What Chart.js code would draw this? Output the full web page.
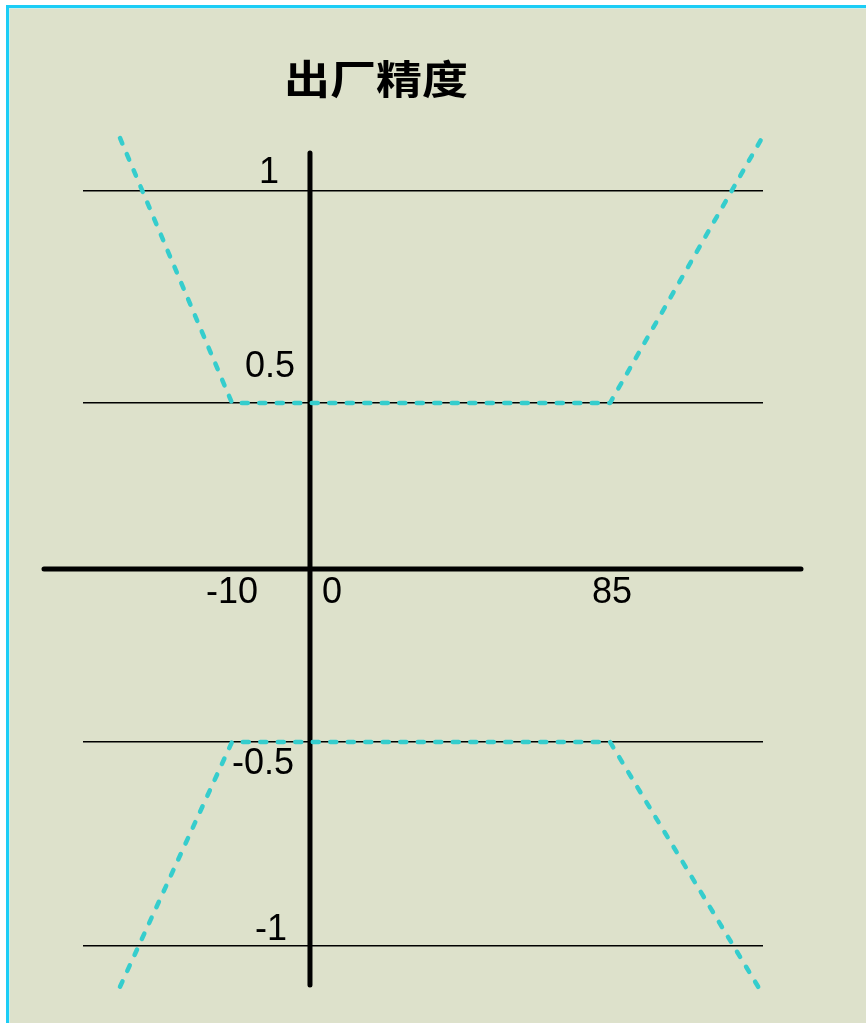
<!DOCTYPE html>
<html>
<head>
<meta charset="utf-8">
<script src="https://cdn.jsdelivr.net/npm/chart.js@4.4.1/dist/chart.umd.min.js"></script>
<style>
  html, body { margin: 0; padding: 0; background: #ffffff; }
  .marco {
    position: absolute; left: 6px; top: 5px; width: 860px; height: 1018px;
    box-sizing: border-box;
    border-left: 3px solid #1ccdf6; border-top: 3px solid #1ccdf6;
    box-shadow: inset 1px 1px 0 #cfeee6;
    background: #dde1cb;
  }
  #grafico { position: absolute; left: 0; top: 0; }
</style>
</head>
<body>
<div class="marco"></div>
<canvas id="grafico" width="866" height="1023"></canvas>
<script>
// datos (temperatura °C vs. error)
const titulo = "出厂精度";
const xSuperior = [-25, -10, 85, 125];
const ySuperior = [1.125, 0.5, 0.5, 1.125];
const xInferior = [-25, -10, 85, 124];
const yInferior = [-1.1, -0.5, -0.5, -1.1];
const ticksY = [-1, -0.5, 0.5, 1];
const etiquetasY = ["-1", "-0.5", "0.5", "1"];
const ticksX = [-10, 0, 85];
const etiquetasX = ["-10", "0", "85"];

// el dibujo original no es lineal: tramos (valor -> fracción del área)
const tramos = {
  x: [[-25, 0.0544], [-10, 0.2191], [0, 0.3338], [85, 0.775], [125, 0.9985]],
  y: [[-1, 0.0621], [-0.5, 0.2966], [0, 0.4954], [0.5, 0.6862], [1, 0.9299]]
};

function interpolar(v, t) {
  let i = 1;
  while (i < t.length - 1 && v > t[i][0]) i++;
  const [v0, d0] = t[i - 1], [v1, d1] = t[i];
  return d0 + (v - v0) * (d1 - d0) / (v1 - v0);
}
function invertir(d, t) {
  let i = 1;
  while (i < t.length - 1 && d > t[i][1]) i++;
  const [v0, d0] = t[i - 1], [v1, d1] = t[i];
  return v0 + (d - d0) * (v1 - v0) / (d1 - d0);
}

class EscalaTramos extends Chart.LinearScale {
  getPixelForValue(value) {
    return this.getPixelForDecimal(interpolar(value, tramos[this.id]));
  }
  getValueForPixel(pixel) {
    return invertir(this.getDecimalForPixel(pixel), tramos[this.id]);
  }
}
EscalaTramos.id = "tramos";
EscalaTramos.defaults = Chart.LinearScale.defaults;
Chart.register(EscalaTramos);

// desplazamientos de los textos de los ejes, como en el original
const posY = { "1": [-51, -8], "0.5": [-65, -26], "-0.5": [-78, 32], "-1": [-55, -6] };
const posX = { "-10": ["center", 0], "0": ["left", 12], "85": ["center", 2] };

const ejes = {
  id: "ejes",
  beforeDatasetsDraw(chart) {
    const { ctx, chartArea: a, scales: { x, y } } = chart;
    const x0 = x.getPixelForValue(0), y0 = y.getPixelForValue(0);
    ctx.save();
    ctx.strokeStyle = "#000";
    ctx.lineWidth = 5;
    ctx.lineCap = "round";
    ctx.beginPath();
    ctx.moveTo(a.left - 39, y0); ctx.lineTo(a.right + 38, y0);
    ctx.moveTo(x0, a.top + 23); ctx.lineTo(x0, a.bottom - 15);
    ctx.stroke();

    ctx.fillStyle = "#000";
    ctx.font = '36px "Liberation Sans", Arial, sans-serif';
    ctx.textBaseline = "alphabetic";
    ticksY.forEach((v, i) => {
      const txt = etiquetasY[i];
      const [dx, dy] = posY[txt];
      ctx.textAlign = "left";
      ctx.fillText(txt, x0 + dx, y.getPixelForValue(v) + dy);
    });
    ticksX.forEach((v, i) => {
      const txt = etiquetasX[i];
      const [al, dx] = posX[txt];
      ctx.textAlign = al;
      ctx.fillText(txt, x.getPixelForValue(v) + dx, y0 + 34);
    });

    ctx.font = 'bold 40px "Noto Sans CJK SC", sans-serif';
    ctx.textAlign = "center";
    ctx.textBaseline = "middle";
    ctx.translate(376, 79);
    ctx.scale(1.15, 1);
    ctx.fillText(titulo, 0, 0);
    ctx.restore();
  }
};

const estiloLinea = {
  borderColor: "#35cdcd",
  borderWidth: 4.5,
  borderDash: [6, 11.5],
  borderCapStyle: "round",
  borderJoinStyle: "round",
  pointRadius: 0,
  tension: 0,
  fill: false,
  clip: false
};

new Chart(document.getElementById("grafico"), {
  type: "line",
  data: {
    datasets: [
      { label: "superior", data: xSuperior.map((v, i) => ({ x: v, y: ySuperior[i] })), ...estiloLinea },
      { label: "inferior", data: xInferior.map((v, i) => ({ x: v, y: yInferior[i] })), ...estiloLinea }
    ]
  },
  options: {
    responsive: false,
    animation: false,
    events: [],
    layout: { padding: { left: 83, right: 103, top: 130, bottom: 23 } },
    plugins: { legend: { display: false }, title: { display: false }, tooltip: { enabled: false } },
    scales: {
      x: { type: "tramos", min: -30, max: 130, display: false },
      y: {
        type: "tramos", min: -1.2, max: 1.2,
        afterBuildTicks: s => { s.ticks = ticksY.map(v => ({ value: v })); },
        afterFit: s => { s.width = 0; },
        ticks: { display: false },
        border: { display: false },
        grid: { color: "#000", lineWidth: 1.5, drawTicks: false }
      }
    }
  },
  plugins: [ejes]
});
</script>
</body>
</html>
